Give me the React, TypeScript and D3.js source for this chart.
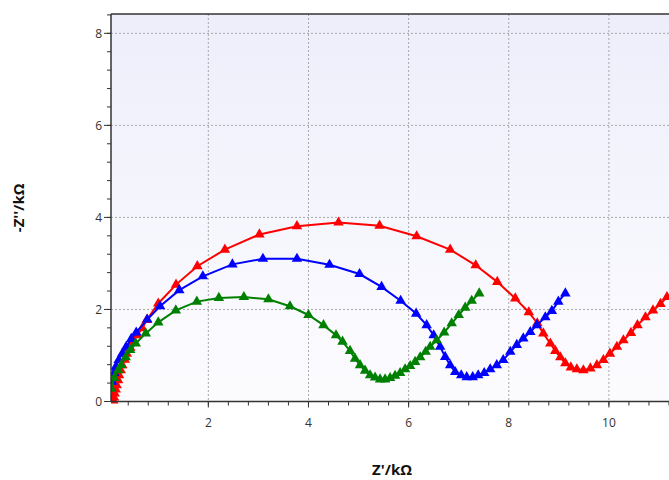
import React from "react";
import * as d3 from "d3";

const redX = [0.1, 0.116, 0.13, 0.15, 0.17, 0.196, 0.216, 0.25, 0.28, 0.33, 0.37, 0.44, 0.5, 0.58, 0.68, 0.77, 1.0, 1.355, 1.78, 2.33, 3.02, 3.77, 4.6, 5.42, 6.16, 6.83, 7.34, 7.77, 8.13, 8.4, 8.57, 8.69, 8.83, 8.93, 9.03, 9.13, 9.24, 9.36, 9.49, 9.63, 9.76, 9.89, 10.02, 10.16, 10.29, 10.44, 10.57, 10.73, 10.88, 11.03, 11.16];
const redY = [0.02, 0.087, 0.174, 0.26, 0.354, 0.463, 0.572, 0.68, 0.79, 0.91, 1.04, 1.17, 1.3, 1.44, 1.59, 1.77, 2.13, 2.54, 2.94, 3.3, 3.63, 3.81, 3.89, 3.82, 3.59, 3.3, 2.96, 2.6, 2.24, 1.94, 1.7, 1.48, 1.26, 1.1, 0.96, 0.83, 0.74, 0.7, 0.68, 0.72, 0.79, 0.9, 1.04, 1.19, 1.33, 1.49, 1.66, 1.83, 1.98, 2.12, 2.27];

const blueX = [0.08, 0.12, 0.15, 0.21, 0.28, 0.36, 0.46, 0.56, 0.78, 1.035, 1.42, 1.89, 2.48, 3.09, 3.77, 4.42, 5.02, 5.46, 5.84, 6.15, 6.36, 6.5, 6.63, 6.73, 6.83, 6.93, 7.05, 7.16, 7.28, 7.39, 7.51, 7.63, 7.76, 7.89, 8.03, 8.16, 8.29, 8.43, 8.56, 8.73, 8.86, 8.99, 9.13];
const blueY = [0.43, 0.62, 0.75, 0.9, 1.04, 1.19, 1.36, 1.5, 1.78, 2.07, 2.42, 2.72, 2.98, 3.1, 3.1, 2.97, 2.77, 2.49, 2.19, 1.91, 1.66, 1.44, 1.19, 0.97, 0.79, 0.64, 0.57, 0.53, 0.53, 0.57, 0.62, 0.7, 0.79, 0.9, 1.08, 1.23, 1.37, 1.51, 1.66, 1.83, 1.97, 2.17, 2.35];

const greenX = [0.06, 0.12, 0.2, 0.26, 0.35, 0.44, 0.55, 0.75, 1.0, 1.35, 1.77, 2.21, 2.71, 3.2, 3.63, 4.0, 4.3, 4.55, 4.68, 4.83, 4.93, 5.03, 5.13, 5.23, 5.33, 5.43, 5.53, 5.63, 5.73, 5.83, 5.93, 6.03, 6.13, 6.23, 6.34, 6.43, 6.56, 6.71, 6.86, 7.0, 7.13, 7.26, 7.41];
const greenY = [0.28, 0.51, 0.68, 0.79, 0.96, 1.12, 1.26, 1.48, 1.72, 1.98, 2.17, 2.25, 2.27, 2.22, 2.07, 1.88, 1.66, 1.44, 1.3, 1.1, 0.93, 0.79, 0.67, 0.57, 0.52, 0.48, 0.48, 0.51, 0.56, 0.62, 0.7, 0.77, 0.86, 0.96, 1.08, 1.19, 1.33, 1.5, 1.7, 1.88, 2.04, 2.19, 2.35];

const xMajor = [2, 4, 6, 8, 10];
const yMajor = [0, 2, 4, 6, 8];
const xTitle = "Z'/kΩ";
const yTitle = "-Z''/kΩ";

const series = [
  { name: "red", color: "#ff0000", xs: redX, ys: redY },
  { name: "blue", color: "#0000ff", xs: blueX, ys: blueY },
  { name: "green", color: "#008000", xs: greenX, ys: greenY },
];

export default function App() {
  const W = 669, H = 480;
  const left = 111, top = 14, right = 673, bottom = 401.5;
  const x = d3.scaleLinear().domain([0.056, 11.28]).range([left, right]);
  const y = d3.scaleLinear().domain([0, 8.42]).range([bottom, top]);
  const xMinor = d3.range(0.4, 11.28, 0.4).filter((v) => x(v) >= left);
  const yMinor = d3.range(0, 8.42, 0.4);
  const line = d3.line<number>();
  const tri = d3.symbol().type(d3.symbolTriangle).size(48)();
  const font = "'Segoe UI', 'Open Sans', 'DejaVu Sans', sans-serif";

  return (
    <svg width={W} height={H} style={{ position: "absolute", left: 0, top: 0, background: "#fff" }}>
      <defs>
        <linearGradient id="bg" x1="0" y1="0" x2="0" y2="1">
          <stop offset="0" stopColor="#eeeefb" />
          <stop offset="1" stopColor="#fcfcff" />
        </linearGradient>
        <clipPath id="clip">
          <rect x={left} y={top} width={right - left} height={bottom - top + 6} />
        </clipPath>
      </defs>
      <rect x={left} y={top} width={right - left} height={bottom - top} fill="url(#bg)" />
      {xMajor.map((v) => (
        <line key={"gx" + v} x1={x(v)} x2={x(v)} y1={top} y2={bottom} stroke="#a8a8a8" strokeDasharray="2,2" />
      ))}
      {yMajor.filter((v) => v > 0).map((v) => (
        <line key={"gy" + v} x1={left} x2={right} y1={y(v)} y2={y(v)} stroke="#a8a8a8" strokeDasharray="2,2" />
      ))}
      <g clipPath="url(#clip)">
        {series.map((s) => {
          const pts = s.xs.map((v, i) => [x(v), y(s.ys[i])] as [number, number]);
          return (
            <g key={s.name}>
              <path d={line(pts) || ""} fill="none" stroke={s.color} strokeWidth={2} />
              {pts.map((p, i) => (
                <path key={i} d={tri || ""} transform={`translate(${p[0]},${p[1]})`} fill={s.color} />
              ))}
            </g>
          );
        })}
      </g>
      {/* axes */}
      <line x1={left} x2={left} y1={top} y2={bottom} stroke="#333" strokeWidth={1.5} />
      <line x1={left} x2={right} y1={top} y2={top} stroke="#333" strokeWidth={1.5} />
      <line x1={left} x2={right} y1={bottom} y2={bottom} stroke="#333" strokeWidth={1.5} />
      {xMinor.map((v) => (
        <line key={"xm" + v} x1={x(v)} x2={x(v)} y1={bottom} y2={bottom + 4} stroke="#333" />
      ))}
      {xMajor.map((v) => (
        <g key={"xt" + v}>
          <line x1={x(v)} x2={x(v)} y1={bottom} y2={bottom + 6} stroke="#333" />
          <text x={x(v)} y={bottom + 25} textAnchor="middle" fontSize={12} fill="#333" fontFamily={font}>{v}</text>
        </g>
      ))}
      {yMinor.map((v) => (
        <line key={"ym" + v} x1={left - 4} x2={left} y1={y(v)} y2={y(v)} stroke="#333" />
      ))}
      {yMajor.map((v) => (
        <g key={"yt" + v}>
          <line x1={left - 7} x2={left} y1={y(v)} y2={y(v)} stroke="#333" />
          <text x={left - 9} y={y(v) + 4.5} textAnchor="end" fontSize={12} fill="#333" fontFamily={font}>{v}</text>
        </g>
      ))}
      <text x={392} y={475} textAnchor="middle" fontSize={15} fontWeight="bold" fill="#111" fontFamily={font}>{xTitle}</text>
      <text transform={`translate(24,${(top + bottom) / 2}) rotate(-90)`} textAnchor="middle" fontSize={15} fontWeight="bold" fill="#111" fontFamily={font}>{yTitle}</text>
    </svg>
  );
}
